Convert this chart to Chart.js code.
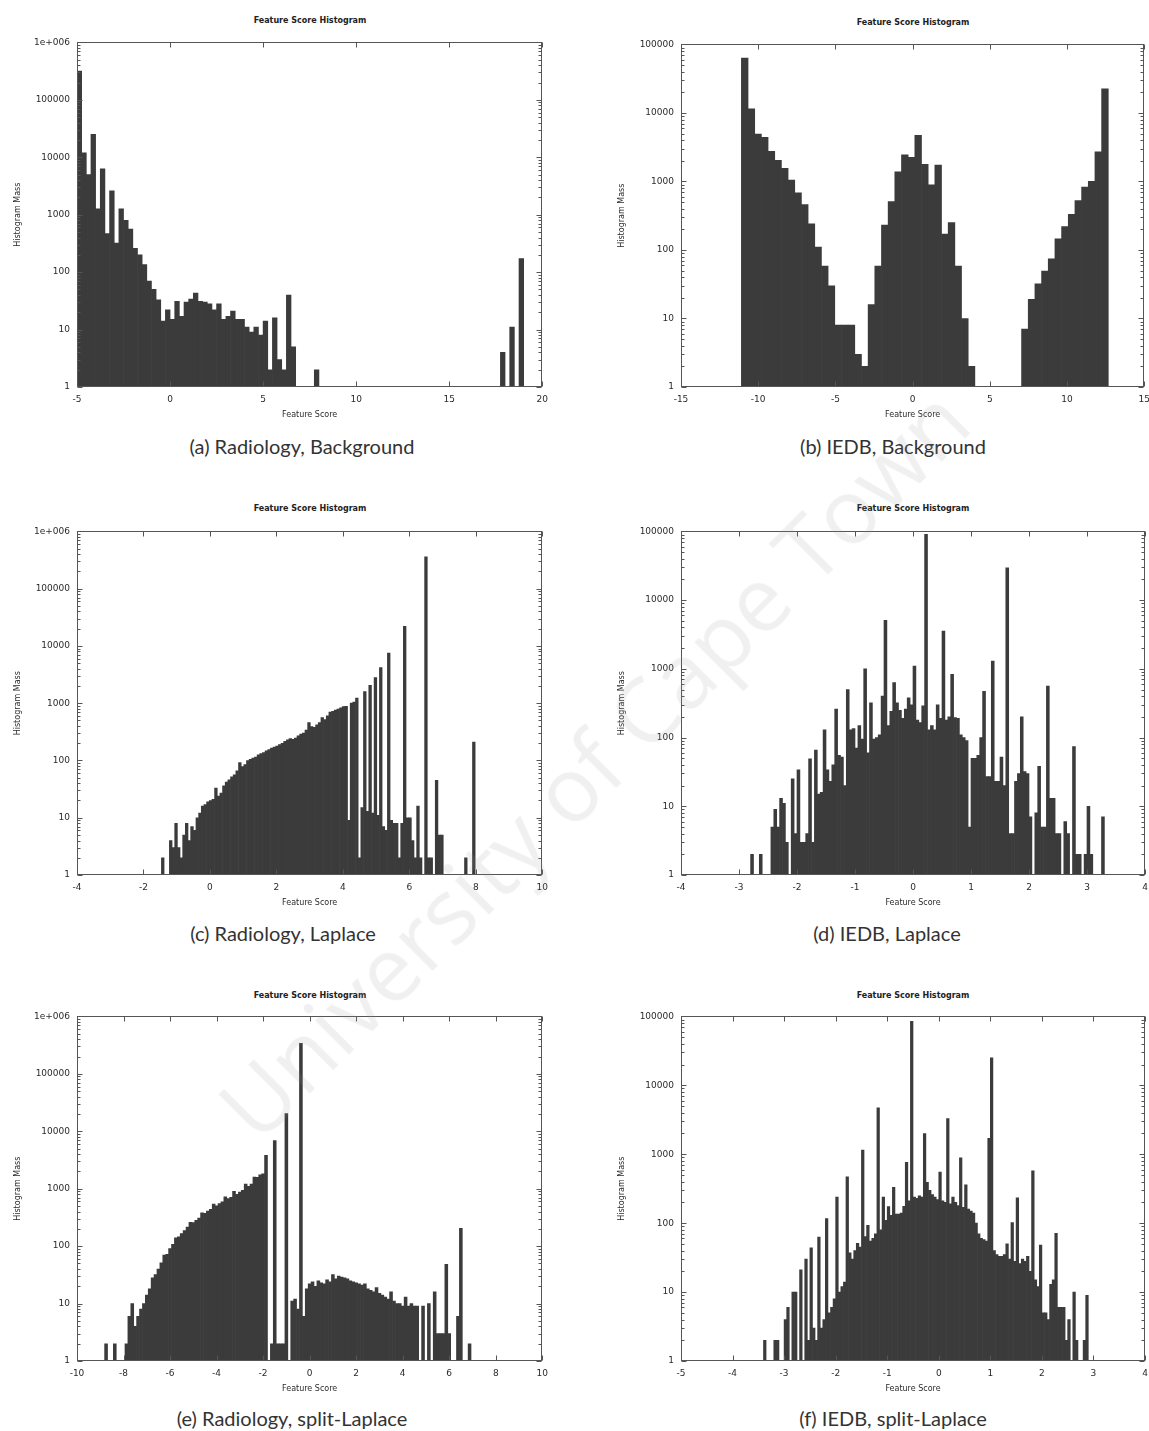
<!DOCTYPE html>
<html>
<head>
<meta charset="utf-8">
<script src="https://cdn.jsdelivr.net/npm/chart.js@4.4.0/dist/chart.umd.min.js"></script>
<style>
  body { margin: 0; background: #fff; width: 1149px; height: 1431px; position: relative; overflow: hidden; }
  canvas { position: absolute; }
  .title { position: absolute; transform: translate(-50%, -50%); font: bold 8px "DejaVu Sans", sans-serif; color: #222; white-space: nowrap; }
  .caption { position: absolute; transform: translate(-50%, -50%); font: 20px Lato, "Open Sans", sans-serif; color: #333; white-space: nowrap; }
  .mark { position: absolute; left: 592px; top: 762px; transform: translate(-50%, -50%) rotate(-45deg);
          font: 90px "Open Sans", sans-serif; color: rgba(150,150,150,0.14); white-space: nowrap; pointer-events: none; z-index: 5; }
</style>
</head>
<body>
<div class="mark">University of Cape Town</div>
<script>
// histogram bins: left edge, bin width, counts per bin

// (a) Radiology, Background
const aBinStart = -5;
const aBinWidth = 0.25;
const aCounts = [
  316000, 12000, 5000, 25000, 1260, 6300, 470, 2600, 320, 1260,
  800, 560, 260, 200, 135, 70, 50, 33, 14, 22,
  15, 31, 17, 30, 34, 43, 31, 30, 28, 22,
  28, 15, 17, 21, 15, 15, 11, 9, 11, 8,
  14, 2, 16, 3, 2, 40, 5, 0, 0, 0,
  0, 2, 0, 0, 0, 0, 0, 0, 0, 0,
  0, 0, 0, 0, 0, 0, 0, 0, 0, 0,
  0, 0, 0, 0, 0, 0, 0, 0, 0, 0,
  0, 0, 0, 0, 0, 0, 0, 0, 0, 0,
  0, 4, 0, 11, 0, 173
];
const aXTicks = [-5, 0, 5, 10, 15, 20];

// (b) IEDB, Background
const bBinStart = -11.09;
const bBinWidth = 0.432;
const bCounts = [
  63000, 11500, 4900, 4400, 2750, 2040, 1550, 1050, 680, 460,
  240, 110, 58, 30, 8, 8, 8, 3, 2,
  16, 58, 230, 510, 1380, 2450, 2240, 4700, 1780, 890,
  1740, 170, 250, 58, 10, 2,
  0, 0, 0, 0, 0, 0, 0,
  7, 19, 32, 49, 74, 145, 220, 330, 525, 830,
  1000, 2700, 22400
];
const bXTicks = [-15, -10, -5, 0, 5, 10, 15];

// (c) Radiology, Laplace
const cBinStart = -1.46;
const cBinWidth = 0.08;
const cCounts = [
  2, 0, 0, 4, 3, 8, 3, 2, 5, 8,
  4, 7, 6, 10, 12, 16, 17, 19, 20, 21,
  33, 24, 27, 36, 42, 46, 52, 56, 66, 92,
  78, 85, 100, 105, 110, 115, 125, 132, 138, 148,
  155, 165, 172, 178, 190, 200, 215, 230, 240, 235,
  245, 270, 290, 300, 340, 460, 390, 380, 420, 460,
  560, 520, 600, 700, 720, 760, 790, 830, 870, 880,
  9, 1000, 1050, 1230, 2, 15, 1600, 13, 2050, 12,
  2800, 11, 4200, 7, 6, 7500, 9, 8, 8, 2,
  8, 22000, 10, 10, 4, 2, 16, 2, 0, 360000,
  2, 2, 0, 45, 5, 5, 0, 0, 0, 0,
  0, 0, 0, 0, 2, 0, 0, 210
];
const cXTicks = [-4, -2, 0, 2, 4, 6, 8, 10];

// (d) IEDB, Laplace
const dBinStart = -2.8;
const dBinWidth = 0.05;
const dCounts = [
  2, 0, 0, 2, 0, 0, 0, 5, 9, 5,
  13, 11, 3, 1, 25, 4, 34, 3, 3, 4,
  49, 3, 66, 15, 16, 130, 34, 23, 40, 260,
  55, 52, 20, 500, 130, 135, 70, 150, 95, 1000,
  60, 320, 95, 100, 110, 400, 5100, 150, 240, 630,
  320, 250, 190, 260, 380, 300, 1100, 180, 165, 290,
  91000, 130, 150, 130, 300, 190, 3550, 180, 200, 830,
  195, 190, 110, 100, 90, 5, 50, 50, 55, 100,
  470, 27, 27, 1300, 23, 23, 52, 20, 29500, 4,
  4, 23, 30, 200, 32, 30, 7, 1, 8, 38,
  5, 5, 560, 13, 13, 4, 4, 0, 6, 4,
  0, 74, 2, 2, 0, 2, 10, 2, 0, 0,
  0, 7
];
const dXTicks = [-4, -3, -2, -1, 0, 1, 2, 3, 4];

// (e) Radiology, split-Laplace
const eBinStart = -8.8125;
const eBinWidth = 0.125;
const eCounts = [
  2, 0, 0, 2, 0, 0, 0, 2, 6, 10,
  4, 6, 8, 10, 14, 18, 28, 32, 40, 51,
  70, 72, 91, 107, 140, 145, 166, 186, 214, 260,
  257, 282, 309, 380, 372, 407, 437, 540, 501, 550,
  589, 720, 676, 708, 900, 794, 871, 933, 1200, 1096,
  1202, 1600, 1585, 1738, 1820, 3800, 0, 2, 6900, 2,
  2, 2, 20400, 0, 11, 12, 8, 340000, 6, 18,
  22, 24, 20, 25, 23, 22, 26, 24, 32, 27,
  30, 29, 28, 27, 25, 24, 23, 22, 21, 22,
  18, 17, 16, 19, 15, 14, 13, 12, 16, 11,
  10, 10, 9, 13, 9, 10, 9, 9, 1, 9,
  1, 10, 1, 16, 3, 3, 3, 48, 3, 0,
  0, 6, 204, 0, 0, 2
];
const eXTicks = [-10, -8, -6, -4, -2, 0, 2, 4, 6, 8, 10];

// (f) IEDB, split-Laplace
const fBinStart = -3.4;
const fBinWidth = 0.05;
const fCounts = [
  2, 0, 0, 0, 2, 2, 0, 0, 4, 6,
  0, 10, 10, 0, 21, 0, 30, 2, 44, 3,
  2, 63, 3, 4, 117, 5, 6, 8, 240, 10,
  12, 14, 470, 37, 30, 40, 51, 45, 1150, 64,
  93, 55, 60, 70, 4700, 80, 240, 110, 174, 130,
  330, 135, 135, 140, 175, 760, 210, 85000, 240, 230,
  250, 240, 2000, 390, 300, 260, 240, 220, 550, 210,
  200, 3300, 190, 240, 200, 180, 890, 170, 360, 160,
  150, 140, 100, 70, 60, 58, 55, 1700, 25000, 40,
  35, 33, 33, 35, 50, 30, 102, 28, 234, 26,
  30, 28, 33, 20, 575, 15, 12, 48, 5, 5,
  4, 13, 15, 71, 6, 6, 6, 2, 4, 0,
  10, 2, 0, 0, 2, 9
];
const fXTicks = [-5, -4, -3, -2, -1, 0, 1, 2, 3, 4];

const yTicksSix = [1, 10, 100, 1000, 10000, 100000, 1000000];
const yTicksFive = [1, 10, 100, 1000, 10000, 100000];

const captions = [
  '(a) Radiology, Background', '(b) IEDB, Background',
  '(c) Radiology, Laplace', '(d) IEDB, Laplace',
  '(e) Radiology, split-Laplace', '(f) IEDB, split-Laplace'
];

const BAR = '#3b3b3b';
const INK = '#2a2a2a';
const PAD_L = 66, PAD_R = 12, PAD_T = 8, PAD_B = 36;

// plot areas on the page and caption centres
const panels = [
  { start: aBinStart, width: aBinWidth, counts: aCounts, xTicks: aXTicks, yTicks: yTicksSix,  x0: 77,  x1: 543,  y0: 38,   y1: 387,  cap: [302, 446],  ty: 20 },
  { start: bBinStart, width: bBinWidth, counts: bCounts, xTicks: bXTicks, yTicks: yTicksFive, x0: 681, x1: 1145, y0: 40,   y1: 387,  cap: [893, 446],  ty: 22 },
  { start: cBinStart, width: cBinWidth, counts: cCounts, xTicks: cXTicks, yTicks: yTicksSix,  x0: 77,  x1: 543,  y0: 527,  y1: 875,  cap: [283, 933],  ty: 508 },
  { start: dBinStart, width: dBinWidth, counts: dCounts, xTicks: dXTicks, yTicks: yTicksFive, x0: 681, x1: 1145, y0: 527,  y1: 875,  cap: [887, 933],  ty: 508 },
  { start: eBinStart, width: eBinWidth, counts: eCounts, xTicks: eXTicks, yTicks: yTicksSix,  x0: 77,  x1: 543,  y0: 1012, y1: 1361, cap: [292, 1418], ty: 995 },
  { start: fBinStart, width: fBinWidth, counts: fCounts, xTicks: fXTicks, yTicks: yTicksFive, x0: 681, x1: 1145, y0: 1012, y1: 1361, cap: [893, 1418], ty: 995 }
];

function histogram(start, width, counts) {
  return counts.map((c, i) => ({ x: start + width * (i + 0.5), y: c }));
}

function yLabel(v) {
  return v >= 1000000 ? '1e+006' : String(v);
}

// gnuplot style border with inward ticks
const frame = {
  id: 'frame',
  afterDatasetsDraw(chart) {
    const { ctx, chartArea: a, scales: { x, y } } = chart;
    const L = Math.round(a.left) + 0.5, R = Math.round(a.right) - 0.5;
    const T = Math.round(a.top) + 0.5, B = Math.round(a.bottom) - 0.5;
    ctx.save();
    ctx.strokeStyle = '#555';
    ctx.lineWidth = 1;
    ctx.strokeRect(L, T, R - L, B - T);
    ctx.beginPath();
    x.ticks.forEach(t => {
      const px = Math.round(x.getPixelForValue(t.value)) + 0.5;
      ctx.moveTo(px, B); ctx.lineTo(px, B - 5);
      ctx.moveTo(px, T); ctx.lineTo(px, T + 5);
    });
    y.ticks.forEach(t => {
      const py = Math.round(y.getPixelForValue(t.value)) + 0.5;
      ctx.moveTo(L, py); ctx.lineTo(L + 5, py);
      ctx.moveTo(R, py); ctx.lineTo(R - 5, py);
      for (let m = 2; m < 10; m++) {
        const v = t.value * m;
        if (v > y.max) break;
        const q = Math.round(y.getPixelForValue(v)) + 0.5;
        ctx.moveTo(L, q); ctx.lineTo(L + 3, q);
        ctx.moveTo(R, q); ctx.lineTo(R - 3, q);
      }
    });
    ctx.stroke();
    ctx.restore();
  }
};

const tickFont = { family: 'DejaVu Sans', size: 9 };
const titleFont = { family: 'DejaVu Sans', size: 8 };

panels.forEach((p, k) => {
  const canvas = document.createElement('canvas');
  const w = p.x1 - p.x0 + PAD_L + PAD_R;
  const h = p.y1 - p.y0 + PAD_T + PAD_B;
  canvas.width = w; canvas.height = h;
  canvas.style.width = w + 'px'; canvas.style.height = h + 'px';
  canvas.style.left = (p.x0 - PAD_L) + 'px';
  canvas.style.top = (p.y0 - PAD_T) + 'px';
  document.body.appendChild(canvas);

  const title = document.createElement('div');
  title.className = 'title';
  title.textContent = 'Feature Score Histogram';
  title.style.left = ((p.x0 + p.x1) / 2) + 'px';
  title.style.top = p.ty + 'px';
  document.body.appendChild(title);

  const cap = document.createElement('div');
  cap.className = 'caption';
  cap.textContent = captions[k];
  cap.style.left = p.cap[0] + 'px';
  cap.style.top = p.cap[1] + 'px';
  document.body.appendChild(cap);

  new Chart(canvas, {
    type: 'bar',
    data: {
      datasets: [{
        data: histogram(p.start, p.width, p.counts),
        backgroundColor: BAR,
        borderWidth: 0,
        barPercentage: 1,
        categoryPercentage: 1
      }]
    },
    options: {
      responsive: false,
      animation: false,
      devicePixelRatio: 1,
      layout: { padding: { left: 0, top: PAD_T, right: PAD_R, bottom: 0 } },
      plugins: { legend: { display: false }, tooltip: { enabled: false } },
      scales: {
        x: {
          type: 'linear',
          min: p.xTicks[0],
          max: p.xTicks[p.xTicks.length - 1],
          offset: false,
          afterBuildTicks: s => { s.ticks = p.xTicks.map(v => ({ value: v })); },
          afterFit: s => { s.height = PAD_B; },
          grid: { display: false, drawTicks: false, offset: false },
          border: { display: false },
          ticks: { font: tickFont, color: INK, padding: 7, maxRotation: 0, autoSkip: false, callback: v => String(v) },
          title: { display: true, text: 'Feature Score', font: titleFont, color: INK, padding: { top: 0, bottom: 3 } }
        },
        y: {
          type: 'logarithmic',
          min: 1,
          max: p.yTicks[p.yTicks.length - 1],
          afterBuildTicks: s => { s.ticks = p.yTicks.map(v => ({ value: v })); },
          afterFit: s => { s.width = PAD_L; },
          grid: { display: false, drawTicks: false },
          border: { display: false },
          ticks: { font: tickFont, color: INK, padding: 7, autoSkip: false, callback: v => yLabel(v) },
          title: { display: true, text: 'Histogram Mass', font: titleFont, color: INK, padding: { top: 2, bottom: 0 } }
        }
      }
    },
    plugins: [frame]
  });
});
</script>
</body>
</html>
